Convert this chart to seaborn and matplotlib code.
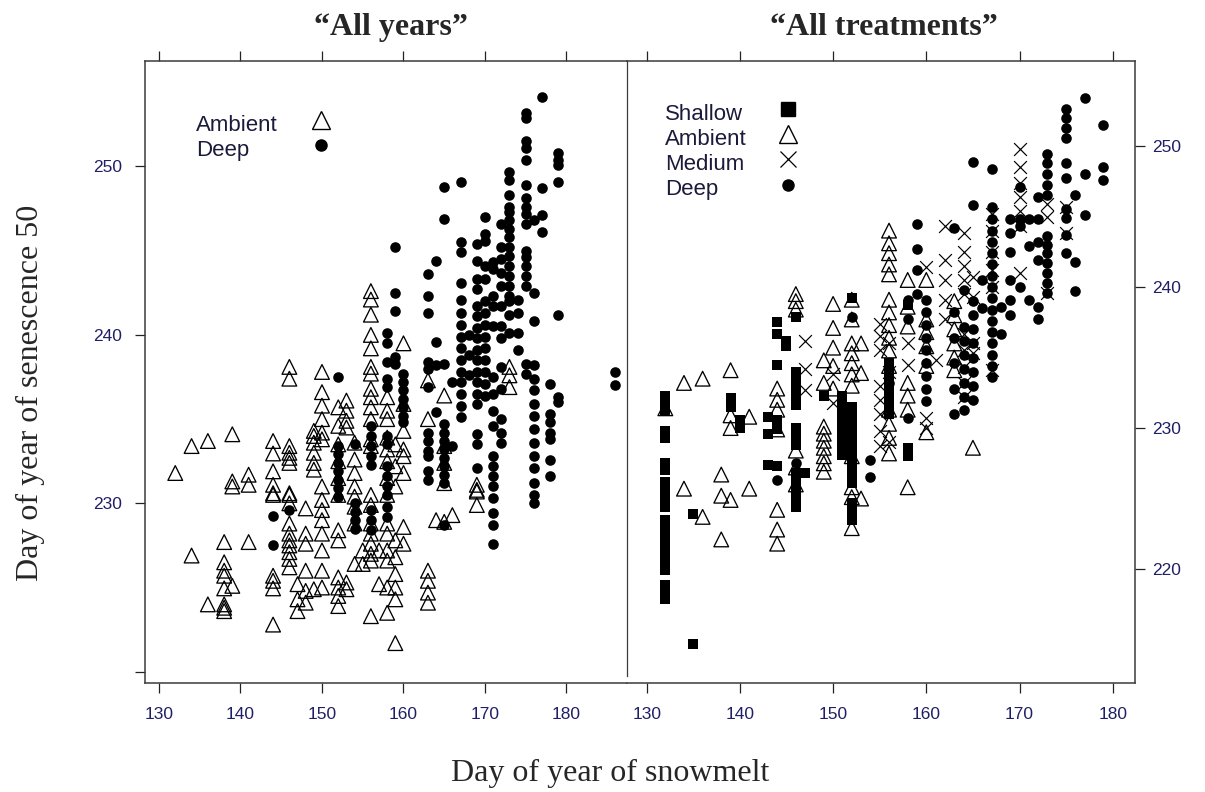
import matplotlib
matplotlib.use("Agg")
import matplotlib.pyplot as plt
import pandas as pd
import seaborn as sns
from matplotlib.lines import Line2D

# ---------------- data (day of snowmelt -> senescence-50 days) ----------------
left_ambient = {
    132: [231.8], 134: [233.4, 226.9], 136: [233.7, 224.0],
    138: [227.7, 226.5, 226.0, 225.7, 224.95, 224.0, 223.8, 223.6],
    139: [234.1, 231.3, 231.0, 225.1], 141: [231.7, 231.1, 227.7],
    144: [233.7, 232.96, 231.9, 231.1, 230.5, 230.6, 225.7, 225.4, 224.95, 222.8],
    146: [238.1, 237.4, 233.4, 233.0, 232.7, 232.4, 230.6, 230.5, 230.0, 228.8, 228.2,
          227.8, 227.5, 227.1, 226.7, 226.2],
    147: [225.2, 224.3, 223.6], 148: [229.7, 228.2, 227.6, 226.0, 224.8, 224.1],
    149: [234.3, 234.0, 233.6, 233.0, 232.4, 232.0, 224.9],
    150: [237.8, 236.6, 235.8, 235.0, 234.2, 233.8, 231.0, 230.2, 229.6, 229.0, 228.2,
          227.2, 226.0, 225.0],
    152: [235.7, 234.6, 233.5, 232.5, 231.5, 230.5, 228.4, 227.8, 225.6, 225.0, 224.5, 223.9],
    153: [236.1, 235.5, 234.9, 234.5, 225.3, 224.9],
    154: [233.6, 232.6, 231.8, 231.0, 230.4, 229.8, 228.8, 226.4], 155: [227.2, 226.4],
    156: [242.6, 242.1, 241.2, 240.0, 239.2, 238.1, 237.7, 236.8, 236.3, 235.7, 235.0, 233.8,
          233.4, 230.5, 229.9, 228.8, 228.2, 227.6, 227.0, 226.6, 223.3],
    157: [227.2, 225.2],
    158: [236.3, 235.5, 235.0, 233.9, 233.2, 232.5, 231.5, 230.5, 228.8, 228.2, 227.2, 226.6,
          225.0, 223.5],
    159: [233.5, 232.2, 231.0, 227.8, 226.8, 225.8, 225.0, 224.3, 221.7],
    160: [239.5, 235.9, 234.3, 233.2, 232.8, 231.8, 228.6, 227.6],
    163: [237.3, 235.0, 226.0, 225.4, 224.7, 224.1], 164: [229.0],
    165: [236.4, 233.4, 232.4, 231.2, 228.9], 166: [229.3],
    169: [231.1, 230.7, 230.8, 229.9], 173: [238.1, 237.6, 236.9],
}
left_deep = {
    144: [229.25, 227.5], 146: [229.6],
    152: [237.5, 233.4, 232.9, 232.4, 231.9, 231.4, 230.9, 230.4],
    154: [233.5, 230.0, 229.5, 229.0, 228.5],
    156: [234.6, 234.0, 233.4, 232.8, 232.3, 229.6, 229.0, 228.4],
    158: [240.1, 239.5, 238.4, 237.4, 236.9, 234.0, 233.5, 232.2, 231.6, 231.0, 230.5, 229.8, 229.2],
    159: [245.2, 242.5, 241.4, 238.7, 238.3],
    160: [237.7, 237.2, 236.7, 236.2, 235.7, 235.2, 234.8],
    163: [243.6, 242.3, 241.3, 238.4, 238.0, 236.9, 234.2, 233.7, 233.1, 232.8, 231.9, 231.4],
    164: [244.4, 239.6, 238.2, 235.4],
    165: [248.8, 246.9, 238.3, 234.7, 234.2, 233.7, 233.2, 232.7, 232.2, 231.7, 231.2, 228.7],
    166: [237.2, 233.4],
    167: [249.05, 245.5, 244.9, 243.1, 242.1, 241.3, 240.6, 239.9, 239.2, 238.5, 237.8, 237.2,
          236.5, 235.8, 235.1],
    168: [240.0, 238.8, 237.6],
    169: [245.4, 244.4, 243.3, 242.7, 241.7, 241.1, 240.4, 239.8, 239.1, 238.5, 237.8, 237.2,
          236.5, 235.9, 234.1, 233.5, 232.1],
    170: [247.0, 246.0, 245.6, 244.1, 243.3, 242.0, 241.3, 240.6, 239.9, 239.2, 238.5, 237.8,
          237.1, 236.4],
    171: [244.3, 243.9, 242.3, 241.7, 240.5, 237.5, 236.5, 235.5, 234.6, 232.8, 232.2, 231.6,
          231.0, 230.3, 229.4, 228.7, 227.6],
    172: [246.6, 245.2, 244.5, 243.7, 242.9, 241.7, 240.5, 239.8, 238.1, 236.8, 235.0, 234.2, 233.6],
    173: [249.7, 249.2, 248.3, 247.6, 247.3, 246.8, 246.3, 245.8, 245.2, 244.7, 244.1, 243.5,
          242.9, 242.3, 242.0, 241.2, 240.1],
    174: [242.1, 241.3, 240.1, 239.1],
    175: [253.2, 252.9, 251.5, 251.1, 250.4, 248.9, 248.1, 247.6, 247.2, 246.6, 245.0, 244.6,
          244.1, 243.5, 242.9, 238.3, 237.7],
    176: [246.8, 242.5, 240.8, 238.2, 237.4, 236.7, 235.9, 235.2, 234.4, 233.6, 232.8, 232.1,
          231.2, 230.5, 230.0],
    177: [254.1, 248.7, 247.1, 246.1],
    178: [237.1, 235.3, 234.8, 234.2, 233.8, 232.6, 231.6],
    179: [250.8, 250.4, 250.1, 249.05, 241.2, 236.3, 236.0],
    186: [237.8, 237.0],
}
right_shallow = {
    132: [232.3, 231.8, 231.2, 229.8, 229.3, 227.5, 227.0, 226.2, 225.6, 225.0, 224.4, 223.5,
          223.0, 222.5, 222.0, 221.4, 220.9, 220.3, 219.9, 218.9, 218.4, 217.9],
    135: [223.9, 214.65], 139: [232.1, 231.5], 140: [230.6, 230.0],
    143: [230.8, 229.6, 227.4], 144: [237.5, 236.7, 234.5, 230.6, 229.9, 227.3],
    145: [236.2, 235.8],
    146: [237.9, 234.0, 233.4, 232.8, 232.2, 231.6, 230.0, 229.4, 228.8, 226.8, 226.2, 225.6,
          225.0, 224.4],
    147: [226.8], 149: [232.3],
    151: [232.3, 231.7, 231.1, 230.5, 229.9, 229.3, 228.7, 228.1],
    152: [239.2, 231.5, 230.9, 230.3, 229.7, 229.1, 228.5, 227.9, 227.3, 226.7, 226.1, 224.7,
          224.1, 223.5],
    156: [234.6, 234.0, 233.4, 232.8, 232.2, 231.6, 231.0],
    158: [238.7, 228.6, 228.0],
}
right_ambient = {
    132: [231.4], 134: [233.2, 225.7], 136: [233.5, 223.7], 138: [226.7, 225.2, 222.1],
    139: [234.1, 230.9, 230.0, 224.9], 141: [230.8, 225.7],
    144: [232.8, 232.0, 231.3, 229.9, 224.2, 222.8, 221.8],
    146: [239.5, 239.0, 238.4, 228.4, 227.2, 226.0],
    149: [234.8, 233.2, 230.1, 229.6, 229.1, 228.6, 228.0, 227.5, 226.9],
    150: [238.8, 237.1, 235.7, 234.4, 232.8],
    152: [239.1, 237.7, 236.0, 235.3, 234.6, 233.8, 233.0, 228.0, 225.8, 225.1, 222.9],
    153: [236.0, 233.9, 225.0],
    156: [244.0, 243.1, 242.4, 241.6, 240.9, 239.1, 238.2, 237.3, 236.4, 235.5, 234.4, 231.3,
          230.3, 229.3, 228.2],
    158: [240.5, 238.6, 237.2, 233.2, 232.3, 231.3, 225.8],
    160: [240.5, 237.7, 236.8, 235.8, 234.4, 229.7],
    163: [239.0, 238.0, 237.0, 236.0, 235.0, 234.1], 165: [228.6],
}
right_medium = {
    147: [236.2, 234.2, 232.7], 150: [233.8, 231.8],
    155: [237.4, 236.5, 235.5, 233.0, 232.0, 231.0, 229.8, 228.7],
    156: [236.0, 234.0, 229.0],
    158: [236.0, 234.5], 160: [241.4, 230.7, 230.0], 161: [234.8],
    162: [244.3, 241.9, 240.5, 239.1, 237.7],
    164: [243.8, 242.5, 241.5, 240.5, 239.5, 236.7, 235.5, 234.3, 233.2, 232.2],
    165: [240.7, 239.3, 236.0, 235.3],
    167: [245.2, 244.0, 242.5, 241.2, 240.0, 234.1],
    170: [249.8, 248.5, 247.4, 246.4, 245.4, 244.3, 241.0],
    173: [245.9, 245.0, 239.6], 175: [245.7, 243.8],
}
right_deep = {
    144: [226.3], 146: [227.5], 152: [237.9], 154: [227.7, 226.5], 156: [233.2],
    158: [239.1, 237.7, 230.7], 159: [244.5, 242.7, 241.2, 239.5],
    160: [239.1, 238.2, 237.3, 236.4, 235.5, 234.6, 233.7, 232.8, 231.9],
    163: [244.2, 238.2, 236.4, 234.6, 232.8, 231.0],
    164: [239.8, 237.2, 236.2, 235.2, 234.2, 233.2, 232.2, 231.3],
    165: [248.9, 245.8, 239.0, 238.0, 237.0, 236.0, 235.0, 234.0, 233.0, 232.0],
    166: [240.5, 238.5],
    167: [248.4, 245.7, 244.8, 244.0, 243.2, 242.4, 241.6, 240.8, 240.0, 239.2, 238.4, 237.6,
          236.8, 236.0, 235.2, 234.4, 233.6],
    168: [238.6, 236.7], 169: [244.8, 243.8, 242.5, 240.5, 239.1, 238.0],
    170: [247.1, 244.8, 244.3, 240.0], 171: [244.8, 242.9, 239.1],
    172: [246.4, 244.8, 243.2, 241.9, 238.6, 237.7],
    173: [249.4, 248.8, 248.0, 247.2, 246.5, 243.6, 243.0, 242.4, 241.7, 241.0, 240.3, 239.6],
    175: [252.6, 252.0, 251.3, 250.6, 248.8, 247.7, 245.5, 244.9, 243.7, 242.4],
    176: [246.5, 241.8, 239.7], 177: [253.4, 248.0, 245.1], 179: [251.5, 248.5, 247.6],
}

x_ticks = [130, 140, 150, 160, 170, 180]
y_ticks = [220, 230, 240, 250]
left_y_labels = ["", "230", "240", "250"]
right_y_labels = ["220", "230", "240", "250"]
titles = ["\u201cAll years\u201d", "\u201cAll treatments\u201d"]
x_label = "Day of year of snowmelt"
y_label = "Day of year of senescence 50"


def to_frame(cols):
    xs, ys = [], []
    for d, vals in cols.items():
        xs += [d] * len(vals)
        ys += vals
    return pd.DataFrame({"snowmelt": xs, "senescence": ys})


sns.set_theme(style="white")
plt.rcParams["font.family"] = ["Liberation Sans", "DejaVu Sans"]

fig = plt.figure(figsize=(12.05, 7.92), dpi=100)
ax1 = fig.add_axes([0.12008, 0.13801, 0.40050, 0.78535])
ax2 = fig.add_axes([0.52058, 0.13801, 0.42133, 0.78535])

tri = dict(marker="^", s=112, facecolor="none", edgecolor="black", linewidth=0.95)
dot = dict(marker="o", s=58, color="black", linewidth=0)
sq = dict(marker="s", s=52, color="black", linewidth=0)
cross = dict(marker="x", s=85, color="black", linewidth=0.85)

def draw(ax, cols, style):
    df = to_frame(cols)
    sns.scatterplot(data=df, x="snowmelt", y="senescence", ax=ax, legend=False, **style)

draw(ax1, left_ambient, tri)
draw(ax1, left_deep, dot)

draw(ax2, right_shallow, sq)
draw(ax2, right_ambient, tri)
draw(ax2, right_medium, cross)
draw(ax2, right_deep, dot)

ax1.set_xlim(128.25, 187.46)
ax1.set_ylim(219.35, 256.28)
ax2.set_xlim(127.92, 182.39)
ax2.set_ylim(211.94, 256.05)

tick_font = ["Liberation Sans Narrow", "Liberation Sans"]
tick_color = "#1f1f66"
spine_color = "#3a3a3a"
for ax in (ax1, ax2):
    ax.set_xlabel("")
    ax.set_ylabel("")
    ax.set_xticks(x_ticks)
    ax.set_yticks(y_ticks)
    ax.set_xticklabels([str(t) for t in x_ticks], family=tick_font, fontsize=12.5, color=tick_color)
    for s in ax.spines.values():
        s.set_color(spine_color)
        s.set_linewidth(1.1)
    ax.tick_params(axis="x", which="both", direction="out", length=7.5, width=0.9,
                   color="#222222", top=True, bottom=True, labeltop=False, labelbottom=True, pad=10)

ax1.set_yticklabels(left_y_labels, family=tick_font, fontsize=12.5, color=tick_color)
ax1.tick_params(axis="y", direction="out", length=7.5, width=0.9, color="#222222",
                left=True, right=False, labelleft=True, labelright=False, pad=9)
ax1.spines["right"].set_visible(False)

ax2.yaxis.tick_right()
ax2.set_yticklabels(right_y_labels, family=tick_font, fontsize=12.5, color=tick_color)
ax2.tick_params(axis="y", direction="out", length=7.5, width=0.9, color="#222222",
                left=False, right=True, labelleft=False, labelright=True, pad=5)
ax2.spines["left"].set_bounds(212.43, 256.05)
ax2.spines["left"].set_linewidth(0.9)

# titles
ax1.text(0.51, 1.041, titles[0], transform=ax1.transAxes, ha="center", va="baseline",
         fontsize=23, fontweight="bold", family="Liberation Serif")
ax2.text(0.5056, 1.041, titles[1], transform=ax2.transAxes, ha="center", va="baseline",
         fontsize=23, fontweight="bold", family="Liberation Serif")

fig.text(610 / 1205, 1 - 781 / 792, x_label, ha="center", va="baseline",
         fontsize=23, family="Liberation Serif")
fig.text(30 / 1205, 1 - 393 / 792, y_label, ha="center", va="center", rotation=90,
         fontsize=23, family="Liberation Serif")

# legends: text column + marker column
leg_prop = {"family": "Liberation Sans", "size": 16}
leg_color = "#1a1a3a"

def add_legend(ax, labels, handles, text_anchor, marker_anchor):
    blanks = [Line2D([], [], linestyle="none") for _ in labels]
    lt = ax.legend(blanks, labels, loc="upper left", bbox_to_anchor=text_anchor,
                   frameon=False, handlelength=0, handletextpad=0, borderpad=0,
                   borderaxespad=0, labelspacing=0.19, prop=leg_prop, labelcolor=leg_color)
    ax.add_artist(lt)
    ax.legend(handles, [""] * len(handles), loc="upper left", bbox_to_anchor=marker_anchor,
              frameon=False, handlelength=1.0, handletextpad=0, borderpad=0,
              borderaxespad=0, labelspacing=0.19, prop=leg_prop)

h_amb = Line2D([], [], linestyle="none", marker="^", markersize=13, markerfacecolor="none",
               markeredgecolor="black", markeredgewidth=1.0)
h_deep = Line2D([], [], linestyle="none", marker="o", markersize=8, color="black")
h_sh = Line2D([], [], linestyle="none", marker="s", markersize=10.5, color="black")
h_med = Line2D([], [], linestyle="none", marker="x", markersize=12, color="black",
               markeredgewidth=0.9)

add_legend(ax1, ["Ambient", "Deep"], [h_amb, h_deep], (0.107, 0.913), (0.3417, 0.918))
add_legend(ax2, ["Shallow", "Ambient", "Medium", "Deep"], [h_sh, h_amb, h_med, h_deep],
           (0.0743, 0.9307), (0.2953, 0.9355))

fig.savefig("out.png", dpi=100)
